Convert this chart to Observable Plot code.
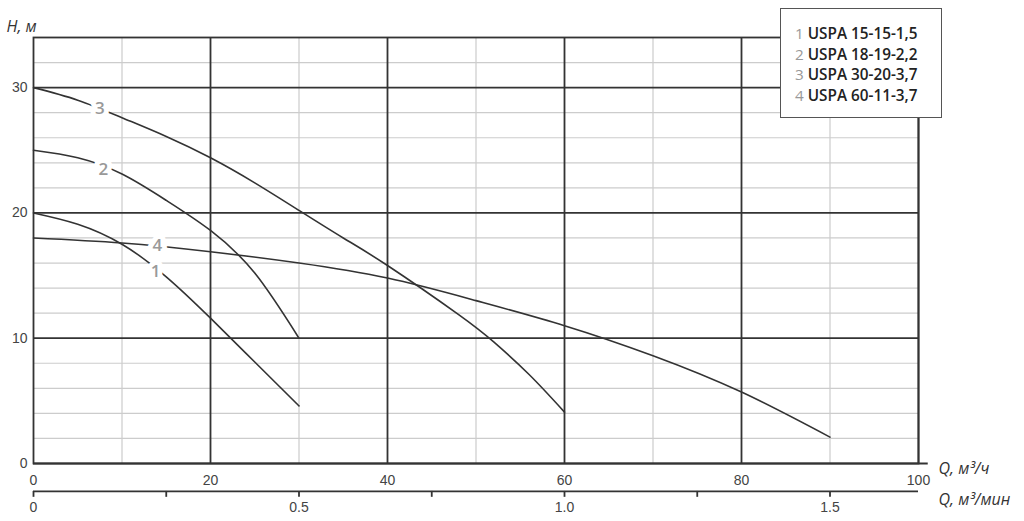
<!DOCTYPE html>
<html>
<head>
<meta charset="utf-8">
<script src="https://cdn.jsdelivr.net/npm/d3@7"></script>
<script src="https://cdn.jsdelivr.net/npm/@observablehq/plot@0.6"></script>
<style>
  html, body { margin: 0; padding: 0; background: #fff; }
  #wrap { position: relative; width: 1024px; height: 521px; }
  #legend {
    position: absolute; left: 780px; top: 8px; width: 162px; height: 110px;
    border: 1px solid #555; background: #fff; box-sizing: border-box;
    padding: 14px 0 0 14px; font-family: "Open Sans", sans-serif; font-size: 15.3px;
    line-height: 20.5px;
  }
  #legend .n { color: #999; font-weight: 400; }
  #legend .m { color: #222; font-weight: 600; }
</style>
</head>
<body>
<div id="wrap"><div id="legend"></div></div>
<script>
// ---- Data ----
const seriesIds = ["1", "2", "3", "4"];
const seriesNames = ["USPA 15-15-1,5", "USPA 18-19-2,2", "USPA 30-20-3,7", "USPA 60-11-3,7"];

const q1 = [0, 5, 10, 15, 20, 25, 30];
const h1 = [20, 19.1, 17.5, 14.9, 11.6, 8.1, 4.6];

const q2 = [0, 5, 10, 15, 20, 25, 30];
const h2 = [25, 24.4, 23.1, 21.0, 18.6, 15.2, 10.0];

const q3 = [0, 5, 10, 15, 20, 25, 30, 35, 40, 48, 52, 56, 60];
const h3 = [30, 29.0, 27.6, 26.1, 24.4, 22.4, 20.2, 18.0, 15.8, 11.9, 9.7, 7.1, 4.1];

const q4 = [0, 10, 20, 30, 40, 50, 60, 70, 80, 90];
const h4 = [18, 17.6, 16.9, 16.0, 14.8, 13.0, 11.0, 8.6, 5.7, 2.1];

const labelQ = [13.8, 7.9, 7.5, 14.0];
const labelH = [15.3, 23.5, 28.3, 17.4];

const xMajor = [20, 40, 60, 80, 100];
const xMinor = [10, 30, 50, 70, 90];
const yMajor = [10, 20, 30];
const yMinor = [2, 4, 6, 8, 12, 14, 16, 18, 22, 24, 26, 28, 32];
const xTickLabels = [0, 20, 40, 60, 80, 100];
const yTickLabels = [0, 10, 20, 30];
const minTicks = [0, 0.25, 0.5, 0.75, 1.0, 1.25, 1.5];
const minLabels = [0, 0.5, 1.0, 1.5];
const minLabelText = ["0", "0.5", "1.0", "1.5"];
const m3hPerM3min = 60;
const secondAxisH = -2.23;   // position of the m³/min axis (in H units below 0)

// ---- Build table ----
const curves = [[q1, h1], [q2, h2], [q3, h3], [q4, h4]];
const rows = curves.flatMap(([qs, hs], i) => qs.map((q, j) => ({id: seriesIds[i], q, h: hs[j]})));
const labels = seriesIds.map((id, i) => ({id, q: labelQ[i], h: labelH[i]}));

const font = "'Liberation Sans', Arial, sans-serif";

const chart = Plot.plot({
  width: 1024,
  height: 521,
  marginLeft: 33,
  marginRight: 106,
  marginTop: 37,
  marginBottom: 58,
  style: {fontFamily: font, fontSize: "14px", color: "#444", background: "#fff", overflow: "visible"},
  x: {domain: [0, 100]},
  y: {domain: [0, 34]},
  marks: [
    Plot.ruleX(xMinor, {stroke: "#ccc", strokeWidth: 1.2}),
    Plot.ruleY(yMinor, {stroke: "#ccc", strokeWidth: 1.2}),
    Plot.ruleX(xMajor, {stroke: "#333", strokeWidth: 1.8}),
    Plot.ruleY(yMajor, {stroke: "#333", strokeWidth: 1.8}),
    Plot.frame({stroke: "#333", strokeWidth: 1.8}),
    Plot.ruleY([0], {x1: 0, x2: 101.1, stroke: "#333", strokeWidth: 1.8}),
    Plot.line(rows, {x: "q", y: "h", z: "id", stroke: "#333", strokeWidth: 1.6, curve: "natural"}),
    Plot.text(labels, {x: "q", y: "h", text: "id", fill: "#999", stroke: "white", strokeWidth: 10,
      fontSize: 17, fontFamily: "'Open Sans', sans-serif", fontWeight: 600}),
    Plot.axisX({ticks: xTickLabels, tickSize: 0, tickPadding: 12, label: null, fontSize: 14}),
    Plot.axisY({ticks: yTickLabels, tickSize: 0, tickPadding: 6, label: null, fontSize: 14}),
    // second (m³/min) axis
    Plot.ruleY([secondAxisH], {stroke: "#333", strokeWidth: 1.8}),
    Plot.ruleX(minTicks.map(v => v * m3hPerM3min), {y1: secondAxisH, y2: -2.7, stroke: "#333", strokeWidth: 1.8}),
    Plot.text(minLabels, {x: d => d * m3hPerM3min, y: -3.55, text: (d, i) => minLabelText[i], fontSize: 14, fill: "#444"}),
    // axis titles
    Plot.text(["H, м"], {frameAnchor: "top-left", dx: -27, dy: -17, textAnchor: "start",
      fontStyle: "italic", fontSize: 16, fill: "#333", fontFamily: "'Open Sans', sans-serif"}),
    Plot.text(["Q, м³/ч"], {frameAnchor: "bottom-right", dx: 20, dy: 10, textAnchor: "start",
      fontStyle: "italic", fontSize: 16, fill: "#333", fontFamily: "'Open Sans', sans-serif"}),
    Plot.text(["Q, м³/мин"], {frameAnchor: "bottom-right", dx: 20, dy: 41, textAnchor: "start",
      fontStyle: "italic", fontSize: 16, fill: "#333", fontFamily: "'Open Sans', sans-serif"})
  ]
});

const wrap = document.getElementById("wrap");
wrap.insertBefore(chart, wrap.firstChild);

const legend = document.getElementById("legend");
seriesIds.forEach((id, i) => {
  const div = document.createElement("div");
  div.innerHTML = `<span class="n">${id}</span> <span class="m">${seriesNames[i]}</span>`;
  legend.appendChild(div);
});
</script>
</body>
</html>
